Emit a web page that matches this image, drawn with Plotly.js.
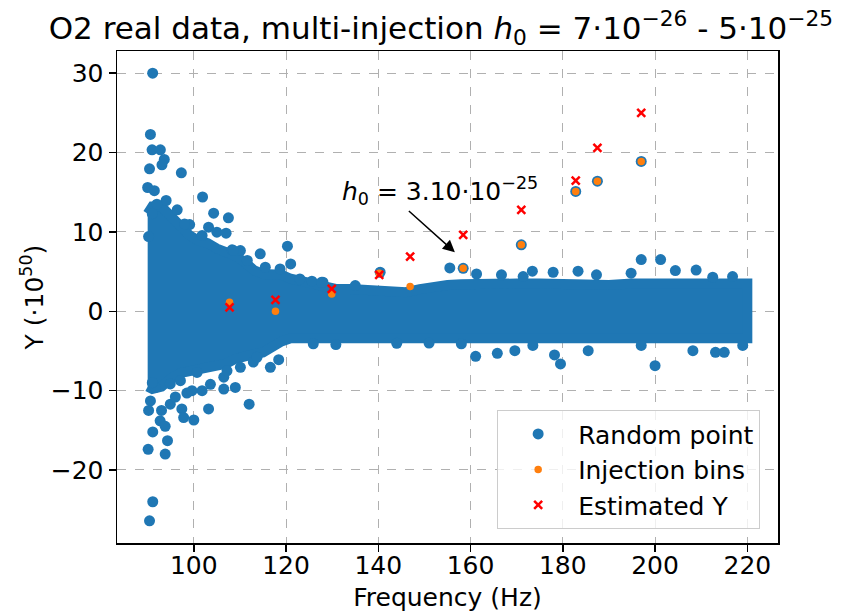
<!DOCTYPE html>
<html>
<head>
<meta charset="utf-8">
<script src="https://cdn.plot.ly/plotly-3.0.1.min.js"></script>
<style>html,body{margin:0;padding:0;background:#fff;}#chart{width:854px;height:615px;}</style>
</head>
<body>
<div id="chart"></div>
<script>
// Dense band of random points (envelope of point centres, Y in 1e50 units)
const bandFreq  = [90, 91, 93, 95, 97, 99, 101, 103, 105, 107, 109, 111, 113, 115, 117, 119, 121, 123, 125, 128, 131, 134, 137, 140, 143, 146, 149, 152, 155, 158, 161, 165, 170, 175, 180, 185, 190, 195, 200, 205, 210, 215, 220];
const bandUpper = [12.3, 13.2, 13.2, 12.0, 10.8, 9.6, 8.9, 8.6, 7.9, 7.5, 7.0, 6.2, 5.2, 4.7, 4.7, 4.6, 4.1, 3.8, 3.4, 3.2, 2.8, 2.8, 2.7, 2.8, 2.7, 2.4, 2.8, 3.2, 3.3, 3.4, 3.5, 3.4, 3.5, 3.5, 3.4, 3.5, 3.3, 3.5, 3.4, 3.5, 3.5, 3.5, 3.5];
const bandLower = [-9.5, -9.8, -9.5, -8.5, -7.8, -7.5, -7.2, -7.3, -6.8, -6.6, -6.0, -5.6, -5.4, -5.2, -4.5, -3.8, -3.4, -3.3, -3.4, -3.2, -3.3, -3.2, -3.1, -3.2, -3.2, -3.1, -3.1, -3.1, -3.2, -3.3, -3.4, -3.4, -3.4, -3.4, -3.4, -3.4, -3.4, -3.4, -3.4, -3.4, -3.4, -3.4, -3.4];

// Individual random points standing out of the band
const randFreq = [91.08, 90.6, 90.95, 92.75, 93.6, 93.1, 90.4, 97.3, 90.0, 91.45, 101.9, 94.0, 96.4, 104.3, 107.5, 99.1, 103.2, 105.0, 107.0, 101.8, 90.2, 114.4, 120.3, 121.0, 110.1, 111.6, 108.3, 125.6, 128.0, 92.0, 91.0,
  98.0, 108.6, 115.5, 118.7, 123.0,
  90.4, 91.1, 90.1, 93.8, 91.1, 94.3, 92.7, 93.8, 90.6, 90.2, 93.0, 94.9, 96.0, 97.4, 97.8, 100.0, 98.5, 99.6, 103.2, 101.8, 106.5, 109.0, 112.0, 106.5, 107.2, 103.6, 91.7, 91.0, 116.6, 118.4, 112.9,
  97.1, 94.9, 100.7, 110.1, 113.7,
  125.9, 130.8, 144.0, 151.0, 158.0, 161.1, 165.8, 169.6, 173.5, 178.2, 179.5, 185.5, 197.0, 200.0, 208.2, 213.1, 215.0, 219.0,
  155.5, 161.3, 166.7, 171.4, 173.4, 177.9, 183.3, 187.3, 194.8, 197.0, 201.2, 204.4, 208.9, 212.5, 216.8, 140.4, 127.7, 135.0,
  158.4, 171.0, 182.8, 187.5, 197.0];
const randY = [30.0, 22.28, 20.35, 20.35, 19.13, 18.46, 17.95, 17.45, 15.6, 15.2, 14.4, 13.96, 12.78, 12.36, 11.78, 10.93, 10.6, 9.97, 9.84, 9.55, 9.42, 7.24, 8.2, 5.97, 7.65, 6.4, 7.74, 3.8, 3.66, 13.5, 12.3,
  11.0, 7.65, 5.55, 5.34, 4.08,
  -26.4, -24.0, -17.4, -18.0, -15.2, -16.3, -13.8, -14.5, -11.3, -12.5, -12.5, -11.7, -10.8, -12.3, -13.4, -13.7, -10.3, -10.0, -12.3, -10.0, -9.8, -9.6, -11.7, -8.3, -7.5, -9.2, -9.6, -9.0, -7.06, -6.1, -6.4,
  -8.74, -9.16, -7.7, -7.06, -5.8,
  -4.1, -4.2, -4.03, -4.0, -4.1, -5.67, -5.3, -4.96, -4.3, -5.5, -6.64, -4.96, -4.3, -6.85, -4.96, -5.17, -5.17, -4.3,
  5.47, 4.7, 4.6, 4.38, 5.05, 4.92, 5.05, 4.6, 4.8, 6.52, 6.52, 5.13, 5.2, 4.3, 4.38, 4.92, 3.66, 3.24,
  5.42, 8.37, 15.1, 16.4, 18.88];

// Injection bins and estimated Y
const injFreq = [107.75, 117.7, 129.9, 140.2, 146.9, 158.4, 171.0, 182.8, 187.5, 197.0];
const injY    = [1.13, 0.0, 2.19, 4.79, 3.11, 5.42, 8.37, 15.1, 16.4, 18.88];
const estY    = [0.5, 1.44, 2.82, 4.59, 6.9, 9.63, 12.79, 16.48, 20.6, 25.0];

const xTicks = [100, 120, 140, 160, 180, 200, 220];
const yTicks = [-20, -10, 0, 10, 20, 30];

const BLUE = '#1f77b4', ORANGE = '#ff7f0e';
const FONT = 'DejaVu Sans, sans-serif';

const polyX = bandFreq.concat(bandFreq.slice().reverse());
const polyY = bandUpper.concat(bandLower.slice().reverse());

const traces = [
  {x: polyX, y: polyY, type: 'scatter', mode: 'lines', fill: 'toself', fillcolor: BLUE,
   line: {color: BLUE, width: 10}, showlegend: false, hoverinfo: 'skip'},
  {x: randFreq, y: randY, type: 'scatter', mode: 'markers', name: 'Random point',
   marker: {color: BLUE, size: 11}},
  {x: injFreq, y: injY, type: 'scatter', mode: 'markers', name: 'Injection bins',
   marker: {color: ORANGE, size: 7.5}},
  {x: injFreq, y: estY, type: 'scatter', mode: 'markers', name: 'Estimated Y',
   marker: {symbol: 'x-thin', size: 8, line: {color: 'red', width: 2.5}, color: 'red'}}
];

const axisCommon = {
  showline: true, mirror: true, linecolor: '#000', linewidth: 1.5,
  ticks: 'outside', ticklen: 7, tickwidth: 1.5, tickcolor: '#000',
  showgrid: true, gridcolor: '#b0b0b0', griddash: 'dash', gridwidth: 1,
  zeroline: false, tickfont: {family: FONT, size: 25, color: '#000'}
};

const layout = {
  width: 854, height: 615,
  margin: {l: 117, r: 76, t: 51, b: 72},
  paper_bgcolor: '#fff', plot_bgcolor: '#fff',
  font: {family: FONT, color: '#000'},
  title: {text: 'O2 real data, multi-injection <i>h</i><sub>0</sub> = 7·10<sup>−26</sup> - 5·10<sup>−25</sup>',
          font: {family: FONT, size: 31, color: '#000'}, x: 0.49, xref: 'paper', xanchor: 'center',
          y: 0.955, yref: 'container', yanchor: 'middle'},
  xaxis: Object.assign({}, axisCommon, {range: [83.35, 226.65], tickvals: xTicks, ticktext: xTicks.map(String),
          ticklabelstandoff: -8,
          title: {text: 'Frequency (Hz)', font: {family: FONT, size: 25, color: '#000'}, standoff: 10}}),
  yaxis: Object.assign({}, axisCommon, {range: [-29.2, 32.8], tickvals: yTicks,
          title: {text: 'Y (·10<sup>50</sup>)', font: {family: FONT, size: 25, color: '#000'}, standoff: 0}}),
  legend: {x: 0.973, xanchor: 'right', y: 0.028, yanchor: 'bottom', bgcolor: 'rgba(255,255,255,0.8)',
           bordercolor: '#cccccc', borderwidth: 1, font: {family: FONT, size: 25, color: '#000'},
           itemwidth: 70, tracegroupgap: 0},
  annotations: [
    {x: 153.4, y: 15.2, xref: 'x', yref: 'y', showarrow: false,
     text: '<i>h</i><sub>0</sub> = 3.10·10<sup>−25</sup>', font: {family: FONT, size: 25, color: '#000'}},
    {x: 156.6, y: 7.44, xref: 'x', yref: 'y', ax: 146.3, ay: 12.8, axref: 'x', ayref: 'y',
     text: '', showarrow: true, arrowhead: 2, arrowsize: 1.6, arrowwidth: 1.5, arrowcolor: '#000', standoff: 0}
  ]
};

Plotly.newPlot('chart', traces, layout, {displayModeBar: false, staticPlot: true});
</script>
</body>
</html>
